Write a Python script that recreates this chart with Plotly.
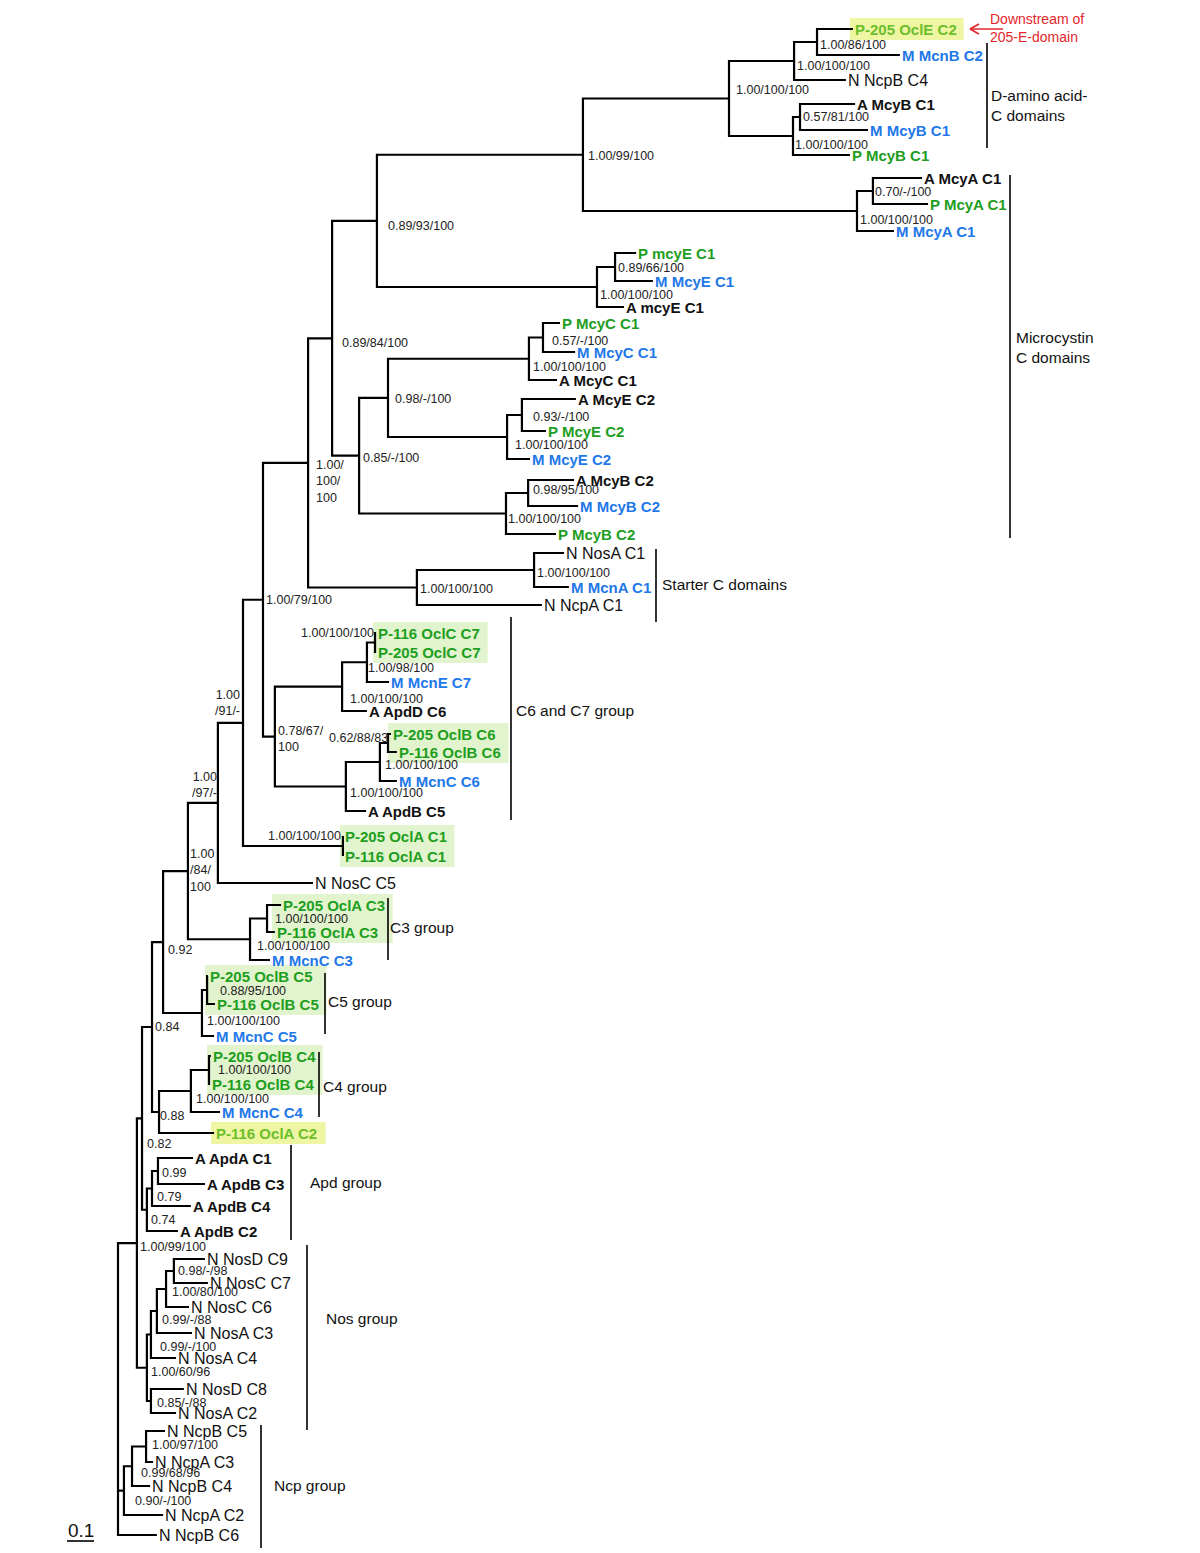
import plotly.graph_objects as go

# ---------------- scale ----------------
PX_PER_UNIT = 270.0      # 0.1 substitutions/site = 27 px
ROOT_PX = 118.0
W, H = 1200, 1553

# ---------------- tree: internal nodes ----------------
node_ids = ["root", "A", "n082", "n084", "n092", "n184", "n197", "n191", "n179", "n1100",
            "n08984", "n08993", "n199", "D", "D1", "D2", "D3", "D4", "MA", "MA2",
            "E1", "E2", "n085", "n098", "C1", "C2", "E21", "E22", "B21", "B22",
            "S1", "S2", "n078", "C7a", "C7b", "C7c", "C6a", "C6b", "C6c", "OA1",
            "C3a", "C3b", "C5a", "C5b", "n088", "C4a", "C4b", "n074", "n079", "n099",
            "Nos", "N1", "N2", "N3", "N4", "N5", "Ncp1", "Ncp2", "Ncp3"]
node_parent = [None, "root", "A", "n082", "n084", "n092", "n184", "n197", "n191", "n179",
               "n1100", "n08984", "n08993", "n199", "D", "D1", "D", "D3", "n199", "MA",
               "n08993", "E1", "n08984", "n085", "n098", "C1", "n098", "E21", "n085", "B21",
               "n1100", "S1", "n179", "n078", "C7a", "C7b", "n078", "C6a", "C6b", "n191",
               "n184", "C3a", "n092", "C5a", "n084", "n088", "C4a", "n082", "n074", "n079",
               "A", "Nos", "N1", "N2", "N3", "Nos", "root", "Ncp1", "Ncp2"]
node_depth = [0.0, 0.070, 0.089, 0.126, 0.167, 0.259, 0.370, 0.463, 0.537, 0.704,
              0.793, 0.959, 1.722, 2.263, 2.504, 2.589, 2.500, 2.526, 2.737, 2.796,
              1.774, 1.841, 0.893, 1.000, 1.522, 1.574, 1.441, 1.496, 1.437, 1.519,
              1.107, 1.541, 0.581, 0.830, 0.922, 0.952, 0.844, 0.970, 1.000, 0.833,
              0.489, 0.552, 0.311, 0.330, 0.152, 0.270, 0.337, 0.107, 0.126, 0.148,
              0.107, 0.122, 0.144, 0.178, 0.207, 0.122, 0.022, 0.052, 0.104]

# ---------------- tree: tips ----------------
leaf_names = ["P-205 OclE C2", "M McnB C2", "N NcpB C4", "A McyB C1", "M McyB C1", "P McyB C1",
              "A McyA C1", "P McyA C1", "M McyA C1", "P mcyE C1", "M McyE C1", "A mcyE C1",
              "P McyC C1", "M McyC C1", "A McyC C1", "A McyE C2", "P McyE C2", "M McyE C2",
              "A McyB C2", "M McyB C2", "P McyB C2", "N NosA C1", "M McnA C1", "N NcpA C1",
              "P-116 OclC C7", "P-205 OclC C7", "M McnE C7", "A ApdD C6", "P-205 OclB C6",
              "P-116 OclB C6", "M McnC C6", "A ApdB C5", "P-205 OclA C1", "P-116 OclA C1",
              "N NosC C5", "P-205 OclA C3", "P-116 OclA C3", "M McnC C3", "P-205 OclB C5",
              "P-116 OclB C5", "M McnC C5", "P-205 OclB C4", "P-116 OclB C4", "M McnC C4",
              "P-116 OclA C2", "A ApdA C1", "A ApdB C3", "A ApdB C4", "A ApdB C2",
              "N NosD C9", "N NosC C7", "N NosC C6", "N NosA C3", "N NosA C4", "N NosD C8",
              "N NosA C2", "N NcpB C5", "N NcpA C3", "N NcpB C4", "N NcpA C2", "N NcpB C6"]
leaf_parent = ["D2", "D2", "D1", "D4", "D4", "D3",
               "MA2", "MA2", "MA", "E2", "E2", "E1",
               "C2", "C2", "C1", "E22", "E22", "E21",
               "B22", "B22", "B21", "S2", "S2", "S1",
               "C7c", "C7c", "C7b", "C7a", "C6c",
               "C6c", "C6b", "C6a", "OA1", "OA1",
               "n197", "C3b", "C3b", "C3a", "C5b",
               "C5b", "C5a", "C4b", "C4b", "C4a",
               "n088", "n099", "n099", "n079", "n074",
               "N4", "N4", "N3", "N2", "N1", "N5",
               "N5", "Ncp3", "Ncp3", "Ncp2", "Ncp1", "root"]
leaf_depth = [2.722, 2.896, 2.696, 2.730, 2.778, 2.711,
              2.978, 3.000, 2.874, 1.919, 1.981, 1.874,
              1.637, 1.693, 1.626, 1.696, 1.585, 1.526,
              1.689, 1.704, 1.622, 1.652, 1.670, 1.570,
              0.956, 0.956, 1.004, 0.922, 1.011,
              1.033, 1.033, 0.919, 0.833, 0.833,
              0.722, 0.604, 0.581, 0.563, 0.333,
              0.359, 0.356, 0.344, 0.341, 0.378,
              0.356, 0.278, 0.322, 0.270, 0.222,
              0.322, 0.333, 0.263, 0.274, 0.215, 0.244,
              0.215, 0.174, 0.130, 0.119, 0.167, 0.144]
leaf_row = [29, 55, 80, 104, 130, 155,
            178, 204, 231, 253, 281, 307,
            323, 352, 380, 399, 431, 459,
            480, 506, 534, 553, 587, 605,
            633, 652, 682, 711, 734,
            752, 781, 811, 836, 856,
            883, 905, 932, 960, 976,
            1004, 1036, 1056, 1084, 1112,
            1133, 1158, 1184, 1206, 1231,
            1259, 1283, 1307, 1333, 1358, 1389,
            1413, 1431, 1462, 1486, 1515, 1535]
# source organism / highlight kind of each tip
leaf_kind = ["Y", "M", "N", "A", "M", "P",
             "A", "P", "M", "P", "M", "A",
             "P", "M", "A", "A", "P", "M",
             "A", "M", "P", "N", "M", "N",
             "P", "P", "M", "A", "P",
             "P", "M", "A", "P", "P",
             "N", "P", "P", "M", "P",
             "P", "M", "P", "P", "M",
             "Y", "A", "A", "A", "A",
             "N", "N", "N", "N", "N", "N",
             "N", "N", "N", "N", "N", "N"]

# ---------------- node supports (PP / ML / NJ) ----------------
support_node = ["D2", "D1", "D", "D4", "D3", "n199", "MA2", "MA", "n08993", "E2", "E1", "C2",
                "n08984", "C1", "n098", "E22", "E21", "n085", "n1100", "B22", "B21", "S2",
                "S1", "n179", "C7c", "C7b", "C7a", "n191", "n078", "C6c", "C6b", "n197",
                "C6a", "OA1", "n184", "C3b", "C3a", "n092", "C5b", "C5a", "n084", "C4b",
                "C4a", "n088", "n082", "n099", "n079", "n074", "A", "N4", "N3", "N2", "N1",
                "Nos", "N5", "Ncp3", "Ncp2", "Ncp1"]
support_text = ["1.00/86/100", "1.00/100/100", "1.00/100/100", "0.57/81/100", "1.00/100/100",
                "1.00/99/100", "0.70/-/100", "1.00/100/100", "0.89/93/100", "0.89/66/100",
                "1.00/100/100", "0.57/-/100", "0.89/84/100", "1.00/100/100", "0.98/-/100",
                "0.93/-/100", "1.00/100/100", "0.85/-/100", "1.00/<br>100/<br>100",
                "0.98/95/100", "1.00/100/100", "1.00/100/100", "1.00/100/100", "1.00/79/100",
                "1.00/100/100", "1.00/98/100", "1.00/100/100", "1.00<br>/91/-",
                "0.78/67/<br>100", "0.62/88/83", "1.00/100/100", "1.00<br>/97/-",
                "1.00/100/100", "1.00/100/100", "1.00<br>/84/<br>100", "1.00/100/100",
                "1.00/100/100", "0.92", "0.88/95/100", "1.00/100/100", "0.84", "1.00/100/100",
                "1.00/100/100", "0.88", "0.82", "0.99", "0.79", "0.74", "1.00/99/100",
                "0.98/-/98", "1.00/80/100", "0.99/-/88", "0.99/-/100", "1.00/60/96",
                "0.85/-/88", "1.00/97/100", "0.99/68/96", "0.90/-/100"]
# label placement relative to the node (pixels) and side
support_dx = [3, 3, 7, 3, 2, 5, 2, 3, 11, 3, 3, 9, 10, 4, 7, 11, 8, 4, 8, 5, 2, 3, 3, 3,
              -1, 1, 8, -3, 3, 0, 5, -1, 4, -2, 2, 8, 7, 5, 13, 5, 3, 9, 5, 1, 5, 4, 5, 4,
              3, 4, 6, 5, 9, 4, 6, 6, 9, 11]
support_dy = [3, 5, -9, 0, 9, 1, 1, 9, 5, 1, 8, 3, 5, 8, 1, 2, 8, 2, 19, -3, 5, 3, 1, 0,
              -10, 6, 12, -20, 2, -5, 3, -18, 6, -10, -1, 0, 7, 8, 1, 8, 0, 0, 8, 4, 26, 2,
              8, 10, 4, 0, 3, 9, 12, 4, 2, -2, 7, 10]
support_side = ["l"] * 24 + ["r", "l", "l", "r", "l", "r", "l", "r", "l", "r"] + ["l"] * 24

# highlighted tips
green_boxes = [["P-116 OclC C7", "P-205 OclC C7"], ["P-205 OclB C6", "P-116 OclB C6"],
               ["P-205 OclA C1", "P-116 OclA C1"], ["P-205 OclA C3", "P-116 OclA C3"],
               ["P-205 OclB C5", "P-116 OclB C5"], ["P-205 OclB C4", "P-116 OclB C4"]]
yellow_boxes = [["P-205 OclE C2"], ["P-116 OclA C2"]]

# clade brackets: label, bar x (px), top, bottom, text x, text y
bracket_label = ["D-amino acid-<br>C domains", "Microcystin<br>C domains", "Starter C domains",
                 "C6 and C7 group", "C3 group", "C5 group", "C4 group", "Apd group",
                 "Nos group", "Ncp group"]
bracket_x = [987, 1010, 656, 511, 388, 325, 319, 291, 307, 261]
bracket_top = [43, 175, 549, 617, 898, 973, 1052, 1145, 1245, 1425]
bracket_bot = [148, 538, 622, 820, 960, 1034, 1117, 1240, 1430, 1548]
bracket_tx = [991, 1016, 662, 516, 390, 328, 323, 310, 326, 274]
bracket_ty = [105, 347, 584, 710, 927, 1001, 1086, 1182, 1318, 1485]

# ---------------- helpers ----------------
FONT = "Liberation Sans, Arial, Helvetica, sans-serif"
KIND_COLOR = {"A": "#111111", "N": "#111111", "P": "#1E9E1E", "M": "#1F78E8", "Y": "#6DBF2A"}
KIND_BOLD = {"A": True, "N": False, "P": True, "M": True, "Y": True}


def X(px):
    return (px - ROOT_PX) / PX_PER_UNIT


def XP(d):
    return ROOT_PX + d * PX_PER_UNIT


BOLD_W = {" ": 278, "-": 333, "P": 667, "O": 778, "c": 556, "l": 278, "C": 722, "A": 722,
          "B": 722, "E": 667}


def bold_width(s, size=15):
    return sum(BOLD_W.get(ch, 556) for ch in s) * size / 1000.0


depth = dict(zip(node_ids, node_depth))
children = {n: [] for n in node_ids}
for n, p in zip(node_ids, node_parent):
    if p is not None:
        children[p].append(("n", n))
for i, p in enumerate(leaf_parent):
    children[p].append(("l", i))

node_y = {}


def cy(c):
    if c[0] == "l":
        return leaf_row[c[1]]
    if c[1] not in node_y:
        ys = [cy(k) for k in children[c[1]]]
        node_y[c[1]] = (min(ys) + max(ys)) / 2.0
    return node_y[c[1]]


def cx(c):
    return leaf_depth[c[1]] if c[0] == "l" else depth[c[1]]


cy(("n", "root"))

xs, ys = [], []
for n in node_ids:
    ch = sorted(children[n], key=cy)
    x0 = depth[n]
    f, l = ch[0], ch[-1]
    xs += [cx(f), x0, x0, cx(l), None]
    ys += [cy(f), cy(f), cy(l), cy(l), None]
    for c in ch[1:-1]:
        xs += [x0, cx(c), None]
        ys += [cy(c), cy(c), None]

fig = go.Figure()
fig.add_trace(go.Scatter(x=xs, y=ys, mode="lines", line=dict(color="black", width=2.2),
                         hoverinfo="skip", showlegend=False))

shapes = []
annotations = []
name_idx = {}
for i, nm in enumerate(leaf_names):
    name_idx.setdefault(nm, i)

for groups, fill in ((green_boxes, "#E2F4CD"), (yellow_boxes, "#EEF6A4")):
    for g in groups:
        idx = [name_idx[nm] for nm in g]
        x0 = min(XP(leaf_depth[i]) + 2 for i in idx) - 5
        x1 = max(XP(leaf_depth[i]) + 2 + bold_width(leaf_names[i]) for i in idx) + 7
        y0 = min(leaf_row[i] for i in idx) - 11
        y1 = max(leaf_row[i] for i in idx) + 11
        shapes.append(dict(type="rect", xref="x", yref="y", x0=X(x0), x1=X(x1), y0=y0, y1=y1,
                           fillcolor=fill, line=dict(width=0), layer="below"))

for i, nm in enumerate(leaf_names):
    k = leaf_kind[i]
    txt = "<b>%s</b>" % nm if KIND_BOLD[k] else nm
    annotations.append(dict(x=leaf_depth[i], y=leaf_row[i], xref="x", yref="y", text=txt,
                            showarrow=False, xanchor="left", yanchor="middle",
                            font=dict(family=FONT, size=15 if KIND_BOLD[k] else 16,
                                      color=KIND_COLOR[k])))

for n, t, dx, dy, side in zip(support_node, support_text, support_dx, support_dy, support_side):
    px = XP(depth[n]) + dx + (-2 if side == "l" else 2)
    annotations.append(dict(x=X(px), y=node_y[n] + dy, xref="x", yref="y", text=t,
                            showarrow=False, xanchor="left" if side == "l" else "right",
                            yanchor="middle", align="left" if side == "l" else "right",
                            font=dict(family=FONT, size=12.5, color="#222222")))

for lab, bx, bt, bb, tx, ty in zip(bracket_label, bracket_x, bracket_top, bracket_bot,
                                   bracket_tx, bracket_ty):
    shapes.append(dict(type="line", xref="x", yref="y", x0=X(bx), x1=X(bx), y0=bt, y1=bb,
                       line=dict(color="black", width=1.6)))
    annotations.append(dict(x=X(tx - 2), y=ty, xref="x", yref="y", text=lab, showarrow=False,
                            xanchor="left", yanchor="middle", align="left",
                            font=dict(family=FONT, size=15.5, color="#111111")))

# red note with arrow
RED = "#E3262B"
annotations.append(dict(x=X(988), y=28, xref="x", yref="y",
                        text="Downstream of<br>205-E-domain", showarrow=False,
                        xanchor="left", yanchor="middle", align="left",
                        font=dict(family=FONT, size=14, color=RED)))
for (a, b), (c, d) in [((970, 29), (1003, 29)), ((970, 29), (979, 24)), ((970, 29), (979, 34))]:
    shapes.append(dict(type="line", xref="x", yref="y", x0=X(a), y0=b, x1=X(c), y1=d,
                       line=dict(color=RED, width=1.6)))

# scale bar 0.1
shapes.append(dict(type="line", xref="x", yref="y", x0=X(67), x1=X(67) + 0.1, y0=1541, y1=1541,
                   line=dict(color="black", width=1.6)))
annotations.append(dict(x=X(67) + 0.05, y=1530, xref="x", yref="y", text="0.1", showarrow=False,
                        xanchor="center", yanchor="middle",
                        font=dict(family=FONT, size=19, color="#111111")))

fig.update_layout(
    width=W, height=H, margin=dict(l=0, r=0, t=0, b=0),
    paper_bgcolor="white", plot_bgcolor="white", showlegend=False,
    xaxis=dict(visible=False, range=[X(0), X(W)], fixedrange=True),
    yaxis=dict(visible=False, range=[H, 0], fixedrange=True),
    shapes=shapes, annotations=annotations,
)

fig.write_html("out.html", post_script="document.body.style.margin='0px';",
               config={"displayModeBar": False})
